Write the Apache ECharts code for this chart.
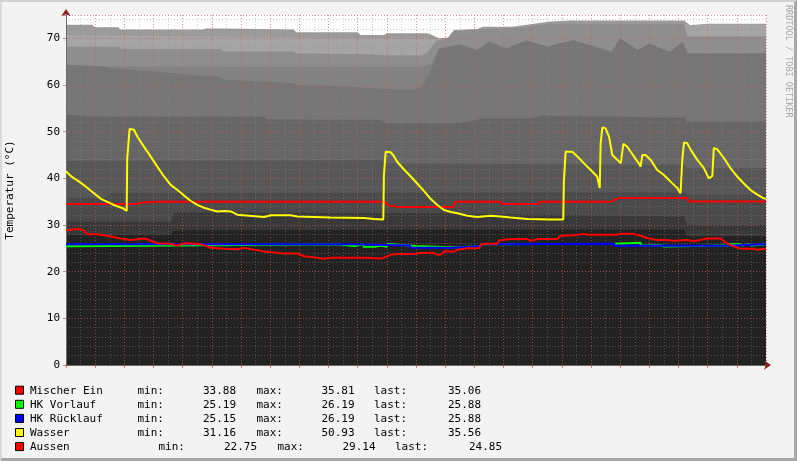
<!DOCTYPE html>
<html>
<head>
<meta charset="utf-8">
<script src="https://cdn.jsdelivr.net/npm/echarts@6/dist/echarts.min.js"></script>
<style>
  html, body { margin:0; padding:0; background:#f3f3f3; }
  #chart { position:absolute; left:0; top:0; width:797px; height:461px; }
  #frame { position:absolute; left:0; top:0; width:797px; height:461px; box-sizing:border-box;
           border-top:2px solid #d2d2d2; border-left:2px solid #dadada;
           border-bottom:3px solid #a8a8a8; border-right:3px solid #a8a8a8; pointer-events:none; }
</style>
</head>
<body>
<div id="chart"></div>
<div id="frame"></div>
<script>
// ---- time axis: hours relative to "Mi 00:00" ----
const timeMin = -2.8;
const timeMax = 21.2;
const xTickLabelHours = [0, 3, 6, 9, 12, 15, 18, 21];
const dayPrefix = 'Mi';

// ---- background grey layers (top boundary, [hour, °C]) ----
const layer1 = [[-2.8,72.9],[-1.9,72.9],[-1.8,72.4],[-1.0,72.4],[-0.95,71.9],[1.9,71.9],[2.0,72.1],[2.6,72.1],[2.65,71.9],[5.0,71.9],[5.1,71.3],[7.2,71.3],[7.3,70.7],[8.1,70.7],[8.2,71.1],[9.6,71.1],[10.0,70.0],[10.3,70.2],[10.5,71.8],[11.3,72.0],[11.5,72.5],[12.5,72.5],[13.0,72.9],[13.8,73.6],[14.5,73.8],[18.4,73.8],[18.6,72.8],[19.2,73.1],[21.2,73.1]];
const layer2 = [[-2.8,70.7],[-1.0,70.6],[2.0,70.4],[5.0,70.2],[8.0,70.0],[9.6,70.0],[9.9,69.8],[10.3,70.0],[10.5,71.6],[11.3,71.8],[11.5,72.0],[12.5,72.2],[13.0,72.5],[13.8,73.2],[18.4,73.2],[18.6,72.7],[19.2,73.0],[21.2,73.0]];
const layer3 = [[-2.8,68.2],[-1.0,68.2],[-0.9,67.7],[2.5,67.7],[2.6,67.2],[5.0,67.2],[5.1,66.8],[7.5,66.6],[8.0,66.4],[9.4,66.4],[9.6,67.0],[9.9,69.5],[10.3,70.0],[10.5,71.6],[11.3,71.8],[11.5,72.0],[12.5,72.2],[13.0,72.5],[13.8,73.2],[18.4,73.2],[18.5,70.4],[21.2,70.4]];
const layer4 = [[-2.8,64.3],[-1.5,64.0],[3.0,63.9],[9.4,63.9],[9.7,64.5],[10.0,67.9]];
const layer5 = [[-2.8,64.3],[-1.5,64.0],[-1.2,63.6],[0.0,63.0],[1.0,62.4],[2.4,61.8],[2.6,61.1],[4.0,60.7],[5.0,60.4],[5.1,60.0],[7.0,59.6],[8.0,59.2],[9.1,58.9],[9.4,59.7],[9.7,63.0],[10.0,67.9],[10.7,68.7],[11.3,67.5],[11.7,69.3],[12.3,67.9],[13.0,69.6],[13.7,68.2],[14.1,68.9],[14.6,69.6],[15.9,67.1],[16.2,70.0],[16.8,67.5],[17.2,68.9],[17.9,67.1],[18.35,69.3],[18.5,66.8],[21.2,66.8]];
const layer6 = [[-2.8,53.6],[-2.0,53.2],[4.0,53.2],[4.1,52.6],[8.0,52.5],[8.2,51.8],[10.5,51.8],[11.0,52.2],[11.5,52.8],[13.2,52.8],[13.5,53.4],[18.4,53.0],[18.5,52.2],[21.2,52.2]];
const layer7 = [[-2.8,43.7],[8.0,43.9],[8.2,43.2],[18.4,42.9],[18.5,42.2],[21.2,42.2]];
const layer8 = [[-2.8,36.0],[-1.4,36.0],[-1.3,36.8],[18.4,37.0],[18.5,36.5],[21.2,36.5]];
const layer9 = [[-2.8,30.7],[0.8,30.7],[0.9,32.7],[9.7,32.5],[18.4,31.8],[18.5,30.0],[21.2,30.0]];
const layer10 = [[-2.8,27.9],[0.8,27.9],[0.9,28.8],[9.7,29.0],[18.4,29.0],[18.5,27.6],[21.2,27.6]];
const layerColors = ['#9b9b9b','#a5a5a5','#8e8e8e','#828282','#767676','#666666','#575757','#4a4a4a','#383838','#222222'];

// ---- measured series ([hour, °C]) ----
const mischerEin = [[-2.8,34.5],[-0.4,34.5],[-0.2,34.8],[0.4,35.0],[8.1,35.0],[8.3,34.1],[8.6,33.88],[10.5,33.88],[10.55,35.0],[12.1,35.0],[12.15,34.5],[13.4,34.5],[13.45,35.0],[15.9,35.0],[16.0,35.4],[16.2,35.81],[18.5,35.81],[18.55,35.06],[21.2,35.06]];
const hkVorlauf = [[-2.8,25.45],[-2.55,25.85],[6.5,25.5],[7.1,25.85],[7.4,25.35],[7.8,25.6],[8.0,25.35],[8.2,25.9],[8.3,25.6],[8.95,25.5],[9.2,25.19],[10.6,25.5],[11.4,25.9],[11.5,26.0],[16.0,26.19],[16.9,25.6],[17.6,25.4],[17.7,25.6],[19.8,25.45],[19.9,25.88],[20.3,25.6],[20.4,25.88],[20.6,25.6],[20.7,25.88],[21.2,25.88]];
const hkRuecklauf = [[-2.8,25.85],[7.0,25.6],[9.0,25.15],[10.5,25.5],[11.4,25.9],[11.5,26.0],[16.0,25.55],[19.8,25.88],[21.2,25.88]];
const wasser = [[-2.8,41.5],[-2.6,40.3],[-2.4,39.5],[-2.2,38.6],[-2.0,37.6],[-1.8,36.6],[-1.6,35.6],[-1.4,35.0],[-1.2,34.4],[-1.0,33.9],[-0.85,33.6],[-0.72,33.0],[-0.70,44.3],[-0.62,50.6],[-0.47,50.4],[-0.35,48.9],[-0.13,46.8],[0.10,44.7],[0.33,42.5],[0.56,40.4],[0.79,38.6],[1.02,37.5],[1.25,36.3],[1.47,35.2],[1.70,34.3],[1.93,33.7],[2.15,33.3],[2.39,32.9],[2.62,33.0],[2.85,32.9],[3.07,32.2],[3.99,31.7],[4.22,32.1],[4.90,32.1],[5.13,31.8],[6.27,31.6],[7.42,31.5],[7.76,31.3],[8.08,31.2],[8.10,40.7],[8.16,45.7],[8.33,45.6],[8.45,44.7],[8.56,43.5],[8.79,41.9],[9.02,40.4],[9.24,38.9],[9.47,37.3],[9.70,35.6],[9.93,34.3],[10.16,33.2],[10.4,32.8],[10.62,32.5],[10.96,32.0],[11.30,31.7],[11.76,32.0],[12.1,31.8],[12.44,31.6],[13.02,31.3],[13.8,31.2],[14.25,31.16],[14.27,39.3],[14.33,45.7],[14.56,45.7],[14.73,44.7],[14.96,43.2],[15.19,41.8],[15.41,40.4],[15.50,37.9],[15.53,47.5],[15.59,50.93],[15.70,50.7],[15.82,48.9],[15.93,45.0],[16.10,44.0],[16.22,43.2],[16.31,47.4],[16.44,46.8],[16.56,45.7],[16.67,44.7],[16.84,43.2],[16.90,42.5],[16.96,45.0],[17.07,45.0],[17.24,44.0],[17.47,41.8],[17.70,40.7],[17.93,39.3],[18.16,37.9],[18.27,36.8],[18.33,44.0],[18.39,47.7],[18.50,47.5],[18.62,46.1],[18.84,44.0],[19.07,42.2],[19.24,40.0],[19.36,40.5],[19.41,46.5],[19.53,46.2],[19.76,44.3],[19.98,42.2],[20.21,40.4],[20.44,38.9],[20.67,37.5],[20.90,36.5],[21.13,35.7],[21.2,35.56]];
const aussen = [[-2.8,28.8],[-2.53,29.1],[-2.3,29.14],[-2.18,28.8],[-2.07,28.0],[-1.72,28.0],[-1.38,27.7],[-0.93,27.1],[-0.58,26.8],[-0.13,27.1],[0.0,26.9],[0.33,26.1],[0.79,26.0],[1.02,25.6],[1.25,26.1],[1.70,26.0],[1.93,25.7],[2.16,25.1],[2.62,24.9],[3.07,24.8],[3.30,25.1],[3.87,24.5],[3.99,24.3],[4.67,23.9],[5.13,23.9],[5.36,23.3],[5.82,23.0],[6.04,22.75],[6.27,23.0],[7.42,23.0],[7.99,22.8],[8.10,23.0],[8.33,23.6],[8.56,23.8],[9.13,23.8],[9.36,24.0],[9.82,24.0],[9.93,23.6],[10.04,23.6],[10.16,24.3],[10.50,24.3],[10.62,24.7],[10.96,25.0],[11.36,25.0],[11.42,25.8],[11.64,26.0],[11.99,26.0],[12.05,26.7],[12.44,27.0],[13.02,27.0],[13.13,26.6],[13.36,27.0],[14.04,27.0],[14.16,27.7],[14.62,27.8],[14.96,28.1],[15.07,27.9],[16.1,27.9],[16.2,28.1],[16.67,28.1],[16.9,27.7],[17.13,27.2],[17.47,26.8],[17.81,26.8],[18.04,26.6],[18.5,26.8],[18.73,26.5],[19.18,27.1],[19.64,27.1],[19.76,26.5],[19.98,25.7],[20.2,25.2],[20.33,24.9],[20.79,24.9],[20.9,24.7],[21.1,24.85],[21.2,24.85]];

// ---- legend ----
const legendNames = ['Mischer Ein', 'HK Vorlauf', 'HK Rücklauf', 'Wasser', 'Aussen'];
const legendColors = ['#ff0000', '#00ff00', '#0000ff', '#ffff00', '#ff0000'];
const legendMin = ['33.88', '25.19', '25.15', '31.16', '22.75'];
const legendMax = ['35.81', '26.19', '26.19', '50.93', '29.14'];
const legendLast = ['35.06', '25.88', '25.88', '35.56', '24.85'];

const yMin = 0, yMax = 75;
const yAxisTitle = 'Temperatur (°C)';
const watermark = 'RRDTOOL / TOBI OETIKER';

const MONO = '"DejaVu Sans Mono", "Liberation Mono", monospace';
const chart = echarts.init(document.getElementById('chart'), null, { renderer: 'canvas' });

const layers = [layer1, layer2, layer3, layer4, layer5, layer6, layer7, layer8, layer9, layer10];
const areaSeries = layers.map((d, i) => ({
  type: 'line', data: d, symbol: 'none', silent: true, z: 1,
  lineStyle: { width: 0 }, areaStyle: { color: layerColors[i], opacity: 1 },
  xAxisIndex: 0, yAxisIndex: 0
}));

const lineDefs = [
  { data: mischerEin, color: legendColors[0] },
  { data: hkVorlauf, color: legendColors[1], step: 'end' },
  { data: hkRuecklauf, color: legendColors[2], step: 'end' },
  { data: wasser, color: legendColors[3] },
  { data: aussen, color: legendColors[4] }
];
const lineSeries = lineDefs.map(d => ({
  type: 'line', data: d.data, symbol: 'none', silent: true, z: 5, step: d.step || false,
  lineStyle: { width: 2, color: d.color }, xAxisIndex: 0, yAxisIndex: 0
}));

// legend graphics
const legendGraphics = [];
const rowY0 = 390.7, rowDy = 14.1;
legendNames.forEach((name, i) => {
  const y = rowY0 + i * rowDy;
  const off = (i === 4) ? 21 : 0;
  const font = '11px ' + MONO;
  legendGraphics.push({ type: 'rect', shape: { x: 15.5, y: y - 4.5, width: 8, height: 8 },
    style: { fill: legendColors[i], stroke: '#000', lineWidth: 1 } });
  const txt = (s, x, align) => ({ type: 'text', x: x, y: y,
    style: { text: s, font: font, fill: '#000', textAlign: align, textVerticalAlign: 'middle' } });
  legendGraphics.push(txt(name, 30, 'left'));
  legendGraphics.push(txt('min:', 137.5 + off, 'left'));
  legendGraphics.push(txt(legendMin[i], 236 + off, 'right'));
  legendGraphics.push(txt('max:', 256.5 + off, 'left'));
  legendGraphics.push(txt(legendMax[i], 354.5 + off, 'right'));
  legendGraphics.push(txt('last:', 374 + off, 'left'));
  legendGraphics.push(txt(legendLast[i], 481 + off, 'right'));
});
legendGraphics.push({ type: 'text', x: 788, y: 5, rotation: -Math.PI / 2,
  style: { text: watermark, font: '8.5px ' + MONO, fill: '#a8a8a8', textAlign: 'left', textVerticalAlign: 'middle' } });

const majorLine = { show: true, lineStyle: { color: 'rgba(225,70,70,0.42)', type: [1, 2], width: 1 } };
const minorLine = { show: true, lineStyle: { color: 'rgba(140,140,140,0.45)', type: [1, 2], width: 1 } };
const arrowColor = '#8b2020';

const option = {
  animation: false,
  backgroundColor: 'transparent',
  grid: { left: 66, top: 15, width: 700, height: 350, show: true, backgroundColor: '#ffffff', borderWidth: 0,
          containLabel: false, outerBoundsMode: 'none' },
  xAxis: [
    { type: 'value', min: timeMin, max: timeMax, interval: 1, z: 3, position: 'bottom',
      axisLine: { show: true, onZero: false, lineStyle: { color: '#6a6a6a', width: 1 } },
      axisTick: { show: true, length: 3, lineStyle: { color: 'rgba(200,60,60,0.6)' } },
      splitLine: majorLine,
      axisLabel: { color: '#000', fontFamily: MONO, fontSize: 10.5, margin: 6, showMinLabel: true, showMaxLabel: true,
        formatter: v => { const r = Math.round(v); if (Math.abs(v - r) > 1e-6 || xTickLabelHours.indexOf(r) < 0) return '';
                          return dayPrefix + ' ' + String(r).padStart(2, '0') + ':00'; } } },
    { type: 'value', min: timeMin, max: timeMax, interval: 0.5, z: 2, position: 'bottom',
      axisLine: { show: false }, axisTick: { show: false }, axisLabel: { show: false }, splitLine: minorLine },
    { type: 'value', min: timeMin, max: timeMax, z: 4, position: 'bottom',
      axisLine: { show: true, onZero: false, lineStyle: { color: arrowColor, width: 0, opacity: 1 },
                  symbol: ['none', 'arrow'], symbolSize: [7, 7], symbolOffset: [0, 5] },
      axisTick: { show: false }, axisLabel: { show: false }, splitLine: { show: false } }
  ],
  yAxis: [
    { type: 'value', min: yMin, max: yMax, interval: 10, z: 3, position: 'left',
      axisLine: { show: true, onZero: false, lineStyle: { color: '#6a6a6a', width: 1 } },
      axisTick: { show: true, length: 3, lineStyle: { color: 'rgba(200,60,60,0.6)' } },
      splitLine: majorLine,
      axisLabel: { color: '#000', fontFamily: MONO, fontSize: 11, margin: 6,
        formatter: v => (Math.abs(v % 10) < 1e-6 ? String(v) : '') },
      name: yAxisTitle, nameLocation: 'middle', nameGap: 50, nameRotate: 90,
      nameTextStyle: { color: '#000', fontFamily: MONO, fontSize: 11 } },
    { type: 'value', min: yMin, max: yMax, interval: 2, z: 2, position: 'left',
      axisLine: { show: false }, axisTick: { show: false }, axisLabel: { show: false }, splitLine: minorLine },
    { type: 'value', min: yMin, max: yMax, z: 4, position: 'left',
      axisLine: { show: true, onZero: false, lineStyle: { color: arrowColor, width: 0, opacity: 1 },
                  symbol: ['none', 'arrow'], symbolSize: [7, 7], symbolOffset: [0, 6] },
      axisTick: { show: false }, axisLabel: { show: false }, splitLine: { show: false } }
  ],
  graphic: legendGraphics,
  series: areaSeries.concat(lineSeries)
};
chart.setOption(option);
</script>
</body>
</html>
